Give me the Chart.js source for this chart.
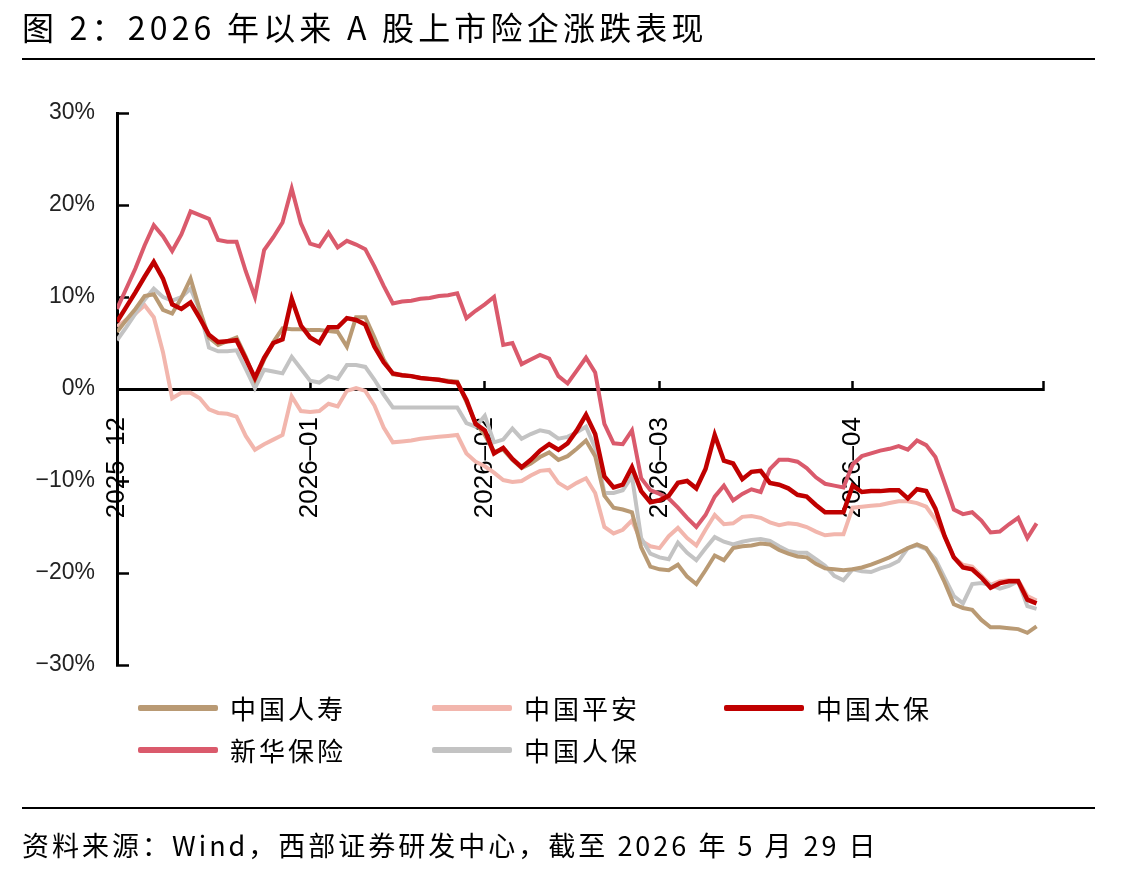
<!DOCTYPE html>
<html lang="zh-CN">
<head>
<meta charset="utf-8">
<title>图 2：2026 年以来 A 股上市险企涨跌表现</title>
<script src="https://cdn.jsdelivr.net/npm/chart.js@4.4.1/dist/chart.umd.min.js"></script>
<style>
  html, body { margin: 0; padding: 0; background: #fff; }
  #page { position: relative; width: 1143px; height: 875px; overflow: hidden; font-family: "Noto Sans CJK SC", "Noto Sans", sans-serif; color: #000; }
  #chart { position: absolute; left: 0; top: 0; }
  .title { position: absolute; left: 22px; top: 4px; font-size: 32px; line-height: 44px; letter-spacing: 4.2px; white-space: nowrap; }
  .rule { position: absolute; left: 22px; width: 1073px; height: 2px; background: #000; }
  .legend-item { position: absolute; height: 36px; white-space: nowrap; }
  .legend-item .swatch { position: absolute; left: 0; top: 15px; width: 80px; height: 6px; border-radius: 2px; }
  .legend-item .name { position: absolute; left: 92px; top: 0; font-size: 26px; line-height: 36px; letter-spacing: 3px; }
  .source { position: absolute; left: 22px; top: 825px; font-size: 27px; line-height: 40px; letter-spacing: 3px; white-space: nowrap; }
</style>
</head>
<body>
<div id="page">
  <canvas id="chart" width="1143" height="875"></canvas>
  <div class="title">图 2：2026 年以来 A 股上市险企涨跌表现</div>
  <div class="rule" style="top:58px"></div>
  <div id="legend"></div>
  <div class="rule" style="top:807px"></div>
  <div class="source">资料来源：Wind，西部证券研发中心，截至 2026 年 5 月 29 日</div>
</div>
<script>
// trading-day index from early Dec 2025 to 2026-05-29
const days = Array.from({ length: 101 }, (_, i) => i);
const xMax = 100.7;

// month starts on the trading-day index, and their labels
const monthTicks = [0, 21, 40, 59, 80];
const monthLabels = ['2025–12', '2026–01', '2026–02', '2026–03', '2026–04'];

const yTicks = [-30, -20, -10, 0, 10, 20, 30];

const seriesNames = ['中国人寿', '中国平安', '中国太保', '新华保险', '中国人保'];
const seriesColors = ['#B99A74', '#F2B6AD', '#C00000', '#DA5A6C', '#C3C3C3'];

// cumulative return, %
const lifeVals = [
  6.2, 7.5, 8.7, 10.1, 10.3, 8.6, 8.2, 9.9, 12.0, 8.6,
  5.6, 4.8, 5.2, 5.6, 3.5, 1.0, 3.2, 5.1, 6.6, 6.5,
  6.5, 6.4, 6.4, 6.3, 6.2, 4.6, 7.8, 7.8, 5.6, 3.2,
  1.6, 1.5, 1.4, 1.2, 1.1, 1.0, 0.9, 0.8, -1.4, -3.7,
  -5.0, -6.8, -6.6, -7.7, -8.6, -8.1, -7.4, -6.9, -7.7, -7.3,
  -6.5, -5.6, -7.3, -11.6, -12.9, -13.1, -13.4, -17.2, -19.3, -19.6,
  -19.7, -19.1, -20.4, -21.2, -19.7, -18.1, -18.6, -17.3, -17.1, -17.0,
  -16.8, -16.9, -17.5, -17.9, -18.2, -18.3, -19.0, -19.5, -19.6, -19.7,
  -19.6, -19.4, -19.1, -18.7, -18.3, -17.8, -17.3, -16.9, -17.3, -18.9,
  -21.0, -23.4, -23.8, -24.0, -25.1, -25.9, -25.9, -26.0, -26.1, -26.5,
  -25.8
];
const pinganVals = [
  6.8, 7.5, 8.2, 9.1, 7.8, 4.0, -1.0, -0.4, -0.4, -1.0,
  -2.2, -2.6, -2.7, -3.0, -5.1, -6.6, -6.0, -5.5, -5.0, -0.8,
  -2.4, -2.5, -2.4, -1.6, -1.9, -0.2, 0.1, -0.2, -1.8, -4.2,
  -5.8, -5.7, -5.6, -5.4, -5.3, -5.2, -5.1, -5.0, -7.0, -7.9,
  -8.4, -9.1, -9.9, -10.1, -10.0, -9.4, -8.9, -8.8, -10.2, -10.8,
  -10.2, -9.7, -11.3, -15.0, -15.7, -15.3, -14.3, -16.5, -17.1, -17.3,
  -16.0, -15.1, -16.2, -17.0, -15.3, -13.7, -14.7, -14.6, -13.9, -13.8,
  -14.0, -14.5, -14.8, -14.6, -14.7, -15.0, -15.5, -15.9, -15.8, -15.8,
  -12.9, -12.8, -12.7, -12.6, -12.4, -12.2, -12.2, -12.4, -12.8, -14.2,
  -16.0, -18.3, -19.1, -19.3, -20.3, -21.3, -20.9, -20.8, -20.8, -22.5,
  -23.0
];
const cpicVals = [
  7.3, 8.9, 10.5, 12.2, 13.8, 12.0, 9.2, 8.7, 9.4, 7.7,
  5.9, 5.1, 5.2, 5.3, 3.3, 1.2, 3.4, 5.0, 5.4, 9.8,
  6.9, 5.6, 5.0, 6.7, 6.7, 7.7, 7.5, 7.0, 4.6, 2.9,
  1.7, 1.5, 1.4, 1.2, 1.1, 1.0, 0.8, 0.7, -1.2, -3.8,
  -4.5, -7.0, -6.4, -7.6, -8.5, -7.7, -6.7, -6.0, -6.6, -5.9,
  -4.5, -2.8, -4.9, -9.5, -10.7, -10.4, -8.5, -11.1, -12.3, -12.1,
  -11.6, -10.2, -10.0, -10.8, -8.7, -5.0, -7.8, -8.1, -9.8, -9.0,
  -8.9, -10.2, -10.4, -10.8, -11.5, -11.7, -12.6, -13.4, -13.4, -13.4,
  -10.5, -11.2, -11.1, -11.1, -11.0, -11.0, -11.9, -10.9, -11.1, -13.0,
  -16.0, -18.3, -19.4, -19.6, -20.5, -21.6, -21.1, -20.9, -20.9, -22.9,
  -23.3
];
const nciVals = [
  8.7, 10.9, 13.1, 15.6, 17.8, 16.6, 15.0, 16.8, 19.3, 18.9,
  18.5, 16.2, 16.0, 16.0, 12.8, 10.0, 15.1, 16.5, 18.1, 21.8,
  18.0, 15.8, 15.5, 17.0, 15.4, 16.1, 15.7, 15.2, 13.3, 11.2,
  9.3, 9.5, 9.6, 9.8, 9.9, 10.1, 10.2, 10.4, 7.7, 8.5,
  9.2, 10.0, 4.8, 5.0, 2.7, 3.2, 3.7, 3.3, 1.4, 0.6,
  2.0, 3.4, 1.8, -3.8, -5.9, -6.0, -4.5, -9.7, -11.0, -11.4,
  -11.9, -12.9, -14.0, -15.0, -13.7, -11.7, -10.5, -12.1, -11.4, -10.9,
  -11.2, -8.7, -7.7, -7.7, -7.9, -8.6, -9.6, -10.3, -10.5, -10.7,
  -8.2, -7.3, -7.0, -6.7, -6.5, -6.2, -6.6, -5.6, -6.1, -7.4,
  -10.2, -13.1, -13.6, -13.4, -14.3, -15.6, -15.5, -14.7, -14.0, -16.2,
  -14.6
];
const piccVals = [
  5.3, 6.7, 8.2, 9.7, 10.9, 10.0, 9.6, 10.0, 10.9, 8.6,
  4.5, 4.1, 4.1, 4.2, 2.2, 0.1, 2.1, 1.9, 1.7, 3.5,
  2.2, 0.9, 0.7, 1.4, 1.1, 2.6, 2.6, 2.4, 1.0, -0.6,
  -2.0, -2.0, -2.0, -2.0, -2.0, -2.0, -2.0, -2.0, -3.7, -4.1,
  -2.9, -5.8, -5.5, -4.3, -5.4, -4.9, -4.5, -4.7, -5.4, -5.2,
  -4.7, -4.1, -6.4, -11.3, -11.3, -11.0, -9.5, -16.2, -17.9, -18.3,
  -18.5, -16.7, -17.8, -18.6, -17.3, -16.1, -16.6, -16.9, -16.6, -16.4,
  -16.3, -16.5, -17.1, -17.6, -17.8, -17.8, -18.5, -19.2, -20.3, -20.8,
  -19.6, -19.8, -19.9, -19.5, -19.2, -18.7, -17.3, -17.0, -17.4, -18.5,
  -20.5, -22.5, -23.3, -21.2, -21.1, -21.3, -21.7, -21.4, -20.9, -23.6,
  -23.9
];

const seriesValues = [lifeVals, pinganVals, cpicVals, nciVals, piccVals];
// lower number is drawn on top
const drawOrder = [2, 4, 0, 1, 3];

// legend (html), 3 per row
(function buildLegend() {
  const box = document.getElementById('legend');
  const colX = [138, 432, 724];
  const rowY = [690, 732];
  seriesNames.forEach((name, k) => {
    const item = document.createElement('div');
    item.className = 'legend-item';
    item.style.left = colX[k % 3] + 'px';
    item.style.top = rowY[Math.floor(k / 3)] + 'px';
    item.innerHTML = '<span class="swatch" style="background:' + seriesColors[k] + '"></span><span class="name">' + name + '</span>';
    box.appendChild(item);
  });
})();

const tickFont = { family: '"Liberation Sans", Arial, sans-serif', size: 23 };

new Chart(document.getElementById('chart').getContext('2d'), {
  type: 'line',
  data: {
    datasets: seriesNames.map((name, k) => ({
      label: name,
      data: days.map((d, i) => ({ x: d, y: seriesValues[k][i] })),
      borderColor: seriesColors[k],
      backgroundColor: seriesColors[k],
      borderWidth: k === 2 ? 4.5 : 4,
      pointRadius: 0,
      tension: 0,
      fill: false,
      order: drawOrder[k]
    }))
  },
  options: {
    responsive: false,
    animation: false,
    layout: { padding: { top: 113, bottom: 210, left: 0, right: 100 } },
    plugins: { legend: { display: false }, tooltip: { enabled: false } },
    scales: {
      x: {
        type: 'linear',
        min: 0,
        max: xMax,
        position: { y: 0 },
        afterFit: (s) => { s.height = 0; },
        afterBuildTicks: (s) => {
          s.ticks = monthTicks.map(v => ({ value: v })).concat([{ value: xMax }]);
        },
        grid: { drawOnChartArea: false, drawTicks: true, tickLength: -10, tickWidth: 2.5, tickColor: '#000' },
        border: { display: true, color: '#000', width: 3 },
        ticks: {
          autoSkip: false,
          minRotation: 90,
          maxRotation: 90,
          padding: 38,
          color: '#000',
          font: { family: tickFont.family, size: 26 },
          callback: (v, i) => monthLabels[i] || ''
        }
      },
      y: {
        min: -30,
        max: 30,
        afterFit: (s) => { s.width = 117; },
        afterBuildTicks: (s) => { s.ticks = yTicks.map(v => ({ value: v })); },
        grid: { drawOnChartArea: false, drawTicks: true, tickLength: -12, tickWidth: 2.5, tickColor: '#000' },
        border: { display: true, color: '#000', width: 3 },
        ticks: {
          padding: 34,
          color: '#222',
          font: tickFont,
          callback: (v) => (v < 0 ? '−' : '') + Math.abs(v) + '%'
        }
      }
    }
  }
});
</script>
</body>
</html>
